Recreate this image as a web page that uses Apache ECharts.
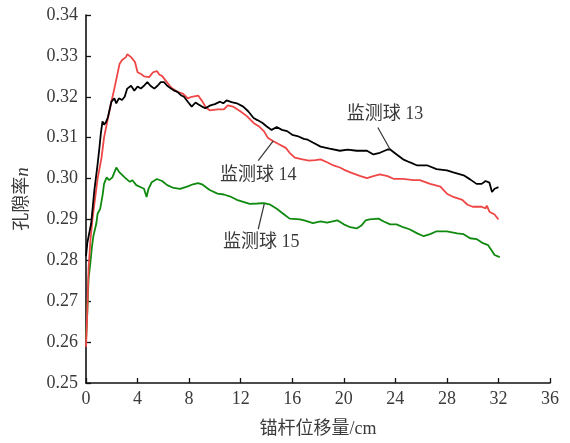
<!DOCTYPE html>
<html>
<head>
<meta charset="utf-8">
<script src="https://cdn.jsdelivr.net/npm/echarts@6/dist/echarts.min.js"></script>
<style>
  html, body { margin: 0; padding: 0; background: #fff; }
  #chart { width: 570px; height: 443px; }
</style>
</head>
<body>
<div id="chart"></div>
<script>
// Porosity vs. anchor-bolt displacement for three monitoring balls
const xTicks = [0, 4, 8, 12, 16, 20, 24, 28, 32, 36];
const yTicks = [0.25, 0.26, 0.27, 0.28, 0.29, 0.30, 0.31, 0.32, 0.33, 0.34];

// 监测球 13
const ball13X = [0, 0.1, 0.4, 0.65, 0.9, 1.04, 1.15, 1.28, 1.4, 1.55, 1.7, 1.97, 2.2, 2.35, 2.55, 2.8, 3.0, 3.2, 3.5, 3.75, 4.0, 4.25, 4.5, 4.76, 5.0, 5.3, 5.55, 5.8, 6.05, 6.3, 6.6, 6.85, 7.1, 7.4, 7.6, 7.9, 8.2, 8.5, 8.7, 9.0, 9.26, 9.65, 10.0, 10.4, 10.65, 10.9, 11.3, 11.7, 12.2, 12.6, 13.0, 13.3, 13.7, 14.0, 14.4, 14.8, 15.2, 15.6, 16.0, 16.4, 16.9, 17.2, 17.6, 18.2, 18.9, 19.7, 20.3, 21.0, 21.8, 22.3, 22.8, 23.4, 23.6, 24.1, 24.6, 25.1, 25.7, 26.5, 27.2, 28.0, 28.5, 29.3, 29.8, 30.3, 30.7, 31.0, 31.3, 31.5, 31.7, 32.0];
const ball13Y = [0.2810, 0.2842, 0.2890, 0.2972, 0.3035, 0.3075, 0.3110, 0.3140, 0.3132, 0.3138, 0.3150, 0.3188, 0.3196, 0.3184, 0.3196, 0.3192, 0.3200, 0.3220, 0.3227, 0.3215, 0.3225, 0.3220, 0.3227, 0.3236, 0.3227, 0.3220, 0.3227, 0.3236, 0.3236, 0.3227, 0.3220, 0.3215, 0.3212, 0.3203, 0.3200, 0.3188, 0.3176, 0.3186, 0.3182, 0.3176, 0.3172, 0.3179, 0.3182, 0.3188, 0.3184, 0.3191, 0.3187, 0.3184, 0.3176, 0.3164, 0.3148, 0.3143, 0.3136, 0.3128, 0.3119, 0.3126, 0.3119, 0.3116, 0.3107, 0.3104, 0.3097, 0.3095, 0.3088, 0.3078, 0.3073, 0.3068, 0.3071, 0.3068, 0.3068, 0.3059, 0.3063, 0.3071, 0.3071, 0.3059, 0.3047, 0.3040, 0.3032, 0.3032, 0.3023, 0.3020, 0.3015, 0.3008, 0.2998, 0.2987, 0.2987, 0.2994, 0.2990, 0.2967, 0.2975, 0.2979];

// 监测球 14
const ball14X = [0, 0.1, 0.2, 0.35, 0.5, 0.7, 0.9, 1.2, 1.3, 1.4, 1.65, 1.97, 2.2, 2.4, 2.6, 2.8, 3.1, 3.2, 3.5, 3.8, 4.0, 4.3, 4.5, 4.9, 5.2, 5.5, 5.7, 5.9, 6.2, 6.5, 6.7, 7.1, 7.5, 7.9, 8.2, 8.7, 9.0, 9.3, 9.6, 10.2, 10.7, 11.0, 11.4, 12.0, 12.5, 13.0, 13.4, 13.8, 14.1, 14.5, 14.9, 15.5, 15.8, 16.2, 16.8, 17.3, 17.8, 18.2, 18.7, 19.2, 19.7, 20.0, 20.5, 21.3, 21.8, 22.3, 22.8, 23.4, 23.9, 24.6, 25.4, 25.9, 26.7, 27.5, 28.0, 28.5, 29.2, 29.6, 30.0, 30.7, 31.0, 31.1, 31.3, 31.7, 32.0];
const ball14Y = [0.2588, 0.2674, 0.2780, 0.2852, 0.2900, 0.2950, 0.3000, 0.3050, 0.3075, 0.3100, 0.3140, 0.3188, 0.3220, 0.3250, 0.3280, 0.3290, 0.3297, 0.3304, 0.3297, 0.3285, 0.3260, 0.3255, 0.3250, 0.3248, 0.3260, 0.3263, 0.3254, 0.3251, 0.3239, 0.3227, 0.3220, 0.3212, 0.3208, 0.3196, 0.3200, 0.3203, 0.3190, 0.3174, 0.3167, 0.3169, 0.3169, 0.3179, 0.3176, 0.3164, 0.3152, 0.3136, 0.3128, 0.3116, 0.3100, 0.3092, 0.3085, 0.3075, 0.3063, 0.3051, 0.3047, 0.3044, 0.3045, 0.3047, 0.3040, 0.3032, 0.3027, 0.3022, 0.3015, 0.3006, 0.3001, 0.3006, 0.3010, 0.3006, 0.2999, 0.2999, 0.2996, 0.2996, 0.2987, 0.2980, 0.2963, 0.2955, 0.2948, 0.2936, 0.2931, 0.2931, 0.2927, 0.2934, 0.2919, 0.2912, 0.2900];

// 监测球 15
const ball15X = [0, 0.1, 0.2, 0.34, 0.45, 0.57, 0.8, 0.9, 1.1, 1.3, 1.4, 1.6, 1.8, 2.05, 2.35, 2.6, 3.0, 3.4, 3.6, 3.9, 4.3, 4.5, 4.7, 4.85, 5.1, 5.5, 5.9, 6.3, 6.8, 7.3, 7.9, 8.3, 8.7, 9.0, 9.6, 10.2, 10.7, 11.2, 11.7, 12.2, 12.7, 13.3, 13.8, 14.3, 14.8, 15.3, 15.8, 16.6, 17.0, 17.6, 18.2, 18.7, 19.5, 20.0, 20.5, 21.0, 21.4, 21.7, 22.0, 22.7, 23.1, 23.6, 24.1, 24.6, 25.1, 25.7, 26.2, 26.7, 27.2, 28.0, 28.8, 29.3, 29.8, 30.3, 30.8, 31.2, 31.5, 31.7, 32.1];
const ball15Y = [0.2600, 0.2674, 0.2756, 0.2794, 0.2830, 0.2859, 0.2890, 0.2914, 0.2926, 0.2962, 0.2987, 0.3003, 0.2996, 0.3003, 0.3027, 0.3015, 0.3003, 0.2992, 0.2996, 0.2984, 0.2978, 0.2975, 0.2955, 0.2975, 0.2991, 0.2999, 0.2994, 0.2984, 0.2977, 0.2975, 0.2981, 0.2986, 0.2989, 0.2986, 0.2972, 0.2963, 0.2961, 0.2956, 0.2948, 0.2943, 0.2938, 0.2939, 0.2940, 0.2936, 0.2926, 0.2914, 0.2902, 0.2900, 0.2897, 0.2891, 0.2895, 0.2892, 0.2898, 0.2888, 0.2881, 0.2878, 0.2886, 0.2898, 0.2900, 0.2902, 0.2895, 0.2888, 0.2888, 0.2881, 0.2876, 0.2866, 0.2859, 0.2864, 0.2871, 0.2871, 0.2866, 0.2864, 0.2854, 0.2852, 0.2842, 0.2837, 0.2823, 0.2813, 0.2808];

// Callouts: label text, label centre, leader line start and end (data units)
const calloutText = ['监测球 13', '监测球 14', '监测球 15'];
const calloutLabelAt = [[23.2, 0.3157], [13.36, 0.3008], [13.6, 0.2843]];
const calloutFrom = [[22.64, 0.3125], [13.36, 0.3044], [13.36, 0.2876]];
const calloutTo = [[23.6, 0.3071], [14.53, 0.3092], [13.83, 0.2938]];

const seriesColors = ['#000000', '#ef4646', '#0f8a0f'];

const zip = (xs, ys) => xs.map((x, i) => [x, ys[i]]);

const serif = '"Liberation Serif", "Times New Roman", serif';
const cjk = '"Liberation Serif", "Noto Sans CJK SC", serif';
const textGray = '#3a3a3a';

const chart = echarts.init(document.getElementById('chart'), null, { renderer: 'canvas' });

const axisCommon = {
  axisLine: { show: true, onZero: false, lineStyle: { color: '#111', width: 1.6 } },
  axisTick: { show: true, inside: true, length: 5, lineStyle: { color: '#111', width: 1.3 } },
  splitLine: { show: false },
  axisLabel: { color: textGray, fontFamily: serif, fontSize: 18 }
};

chart.setOption({
  animation: false,
  backgroundColor: '#fff',
  grid: { left: 86, top: 15, right: 20, bottom: 54, containLabel: false },
  xAxis: Object.assign({}, axisCommon, {
    type: 'value',
    min: xTicks[0],
    max: xTicks[xTicks.length - 1],
    interval: xTicks[1] - xTicks[0],
    name: '锚杆位移量/cm',
    nameLocation: 'middle',
    nameGap: 37,
    nameTextStyle: { color: textGray, fontFamily: cjk, fontSize: 18 },
    axisLabel: Object.assign({}, axisCommon.axisLabel, { margin: 7 })
  }),
  yAxis: Object.assign({}, axisCommon, {
    type: 'value',
    min: yTicks[0],
    max: yTicks[yTicks.length - 1],
    interval: 0.01,
    name: '{a|孔隙率}{b|n}',
    nameLocation: 'middle',
    nameGap: 54,
    nameRotate: 90,
    nameTextStyle: {
      color: textGray,
      fontSize: 18,
      rich: {
        a: { fontFamily: cjk, fontSize: 18, color: textGray },
        b: { fontFamily: serif, fontStyle: 'italic', fontSize: 19, color: textGray }
      }
    },
    axisLabel: Object.assign({}, axisCommon.axisLabel, {
      margin: 8,
      formatter: v => v.toFixed(2)
    })
  }),
  series: [
    { name: '监测球 13', data: zip(ball13X, ball13Y) },
    { name: '监测球 14', data: zip(ball14X, ball14Y) },
    { name: '监测球 15', data: zip(ball15X, ball15Y) }
  ].map((s, i) => ({
    type: 'line',
    name: s.name,
    data: s.data,
    showSymbol: false,
    symbol: 'none',
    smooth: false,
    lineStyle: { color: seriesColors[i], width: 1.8 },
    z: 3 - i
  }))
});

// Callout labels and leader lines, placed through the chart's own coordinate system
const px = p => chart.convertToPixel({ gridIndex: 0 }, p);
const graphics = [];
calloutText.forEach((t, i) => {
  const a = px(calloutFrom[i]);
  const b = px(calloutTo[i]);
  const c = px(calloutLabelAt[i]);
  graphics.push({
    type: 'line',
    shape: { x1: a[0], y1: a[1], x2: b[0], y2: b[1] },
    style: { stroke: '#333', lineWidth: 1.2 },
    z: 10
  });
  graphics.push({
    type: 'text',
    x: c[0],
    y: c[1],
    style: {
      text: t,
      fill: textGray,
      font: '18px ' + cjk,
      align: 'center',
      verticalAlign: 'middle'
    },
    z: 10
  });
});
chart.setOption({ graphic: graphics });
</script>
</body>
</html>
